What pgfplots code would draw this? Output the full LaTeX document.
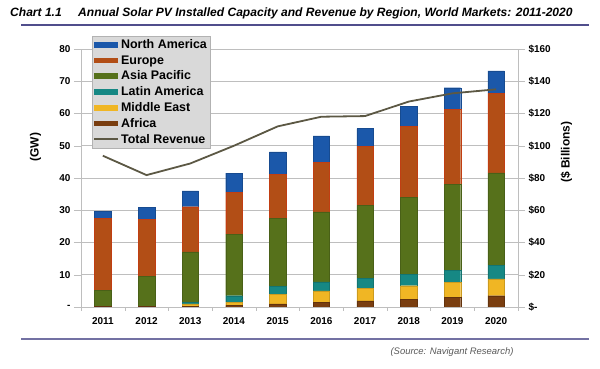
\documentclass[border=0pt]{standalone}
\usepackage{pgfplots}
\pgfplotsset{compat=1.18}
\usepackage{fontspec}
\setmainfont{Liberation Sans}
\definecolor{cNA}{RGB}{27,88,170}
\definecolor{cEU}{RGB}{178,78,22}
\definecolor{cAP}{RGB}{86,113,27}
\definecolor{cLA}{RGB}{22,136,132}
\definecolor{cME}{RGB}{240,182,36}
\definecolor{cAF}{RGB}{122,62,16}
\definecolor{cLine}{RGB}{92,88,68}
\definecolor{cRule}{RGB}{80,78,140}
\definecolor{cGrid}{RGB}{190,190,190}
\begin{document}
\begin{tikzpicture}
\useasboundingbox (0bp,0bp) rectangle (600bp,369bp);
% title
\node[anchor=base west,inner sep=0pt,font=\fontsize{12.1}{14}\selectfont\bfseries\itshape] at (10bp,352bp) {Chart 1.1};
\node[anchor=base west,inner sep=0pt,font=\fontsize{12.1}{14}\selectfont\bfseries\itshape] at (78bp,352bp) {Annual Solar PV Installed Capacity and Revenue by Region, World Markets: 2011-2020};
\draw[cRule,line width=1.2bp] (21bp,344bp) -- (589bp,344bp);
\draw[cRule!80,line width=1.2bp] (21bp,30bp) -- (589bp,30bp);
\node[anchor=base,inner sep=0pt,font=\fontsize{9.5}{11}\selectfont\itshape,text=black!65] at (452bp,14.5bp) {(Source: Navigant Research)};
\begin{axis}[
  at={(81bp,62bp)}, anchor=south west,
  scale only axis, width=437bp, height=258bp,
  ybar stacked, bar width=16.5bp,
  xmin=-0.5, xmax=9.5, ymin=0, ymax=80,
  xtick={0,...,9},
  xticklabels={2011,2012,2013,2014,2015,2016,2017,2018,2019,2020},
  minor xtick={-0.5,0.5,...,9.5},
  ytick={0,10,...,80},
  yticklabels={-,10,20,30,40,50,60,70,80},
  axis x line*=bottom, axis y line*=left,
  axis line style={cGrid},
  major x tick style={draw=none},
  minor x tick style={cGrid},
  every tick/.style={cGrid},
  tick align=outside, major tick length=7bp, minor tick length=4bp,
  ymajorgrids, grid style={cGrid,line width=0.8bp},
  tick label style={font=\fontsize{10}{12}\selectfont\bfseries},
  /pgf/number format/assume math mode=true,
  ylabel={(GW)}, ylabel style={font=\fontsize{12}{14}\selectfont\bfseries, at={(axis description cs:-0.083,0.62)}},
  legend style={at={(0.025,1.05)}, anchor=north west, fill=black!15, draw=black!30,
    font=\fontsize{12.5}{15}\selectfont\bfseries, row sep=1.3bp, inner xsep=1bp, inner ysep=1.5bp,
    cells={anchor=west}},
  legend image code/.code={\fill[#1,draw=none] (0bp,-2.8bp) rectangle (24bp,2.8bp);},
  legend cell align=left,
  reverse legend,
]
\addlegendimage{legend image code/.code={\draw[cLine,line width=2bp] (0bp,0bp) -- (24bp,0bp);}}
\addlegendentry{Total Revenue}
\addplot[fill=cAF,draw=cAF!80!black] coordinates {(0,0.1)(1,0.1)(2,0.2)(3,0.5)(4,1.0)(5,1.45)(6,1.9)(7,2.3)(8,2.9)(9,3.5)};
\addlegendentry{Africa}
\addplot[fill=cME,draw=cME!85!black] coordinates {(0,0.0)(1,0.2)(2,0.8)(3,0.9)(4,2.9)(5,3.55)(6,3.8)(7,4.3)(8,4.8)(9,5.2)};
\addlegendentry{Middle East}
\addplot[fill=cLA,draw=cLA!85!black] coordinates {(0,0.0)(1,0.0)(2,0.5)(3,2.1)(4,2.5)(5,2.8)(6,3.1)(7,3.5)(8,3.7)(9,4.2)};
\addlegendentry{Latin America}
\addplot[fill=cAP,draw=cAP!85!black] coordinates {(0,5.1)(1,9.2)(2,15.6)(3,19.1)(4,21.1)(5,21.7)(6,22.7)(7,23.8)(8,26.7)(9,28.7)};
\addlegendentry{Asia Pacific}
\addplot[fill=cEU,draw=cEU!80!red] coordinates {(0,22.3)(1,17.7)(2,14.0)(3,13.0)(4,13.7)(5,15.4)(6,18.4)(7,22.1)(8,23.1)(9,24.6)};
\addlegendentry{Europe}
\addplot[fill=cNA,draw=cNA!85!black] coordinates {(0,2.2)(1,3.6)(2,4.9)(3,5.9)(4,6.9)(5,8.2)(6,5.4)(7,6.3)(8,6.8)(9,7.0)};
\addlegendentry{North America}
\end{axis}
\begin{axis}[
  at={(81bp,62bp)}, anchor=south west,
  scale only axis, width=437bp, height=258bp,
  xmin=-0.5, xmax=9.5, ymin=0, ymax=160,
  axis x line=none, axis y line*=right,
  axis line style={cGrid},
  ytick={0,20,...,160},
  yticklabels={\$-,\$20,\$40,\$60,\$80,\$100,\$120,\$140,\$160},
  tick align=outside, major tick length=7bp,
  every tick/.style={cGrid},
  yticklabel style={font=\fontsize{10}{12}\selectfont\bfseries, anchor=west},
  ylabel={(\$ Billions)}, ylabel style={font=\fontsize{12}{14}\selectfont\bfseries, at={(axis description cs:1.09,0.6)}},
]
\addplot[cLine,line width=1.8bp,mark=none] coordinates {(0,93.8)(1,81.8)(2,89)(3,100)(4,112)(5,118)(6,118.4)(7,127.4)(8,132.5)(9,135)};
\end{axis}
\end{tikzpicture}
\end{document}
